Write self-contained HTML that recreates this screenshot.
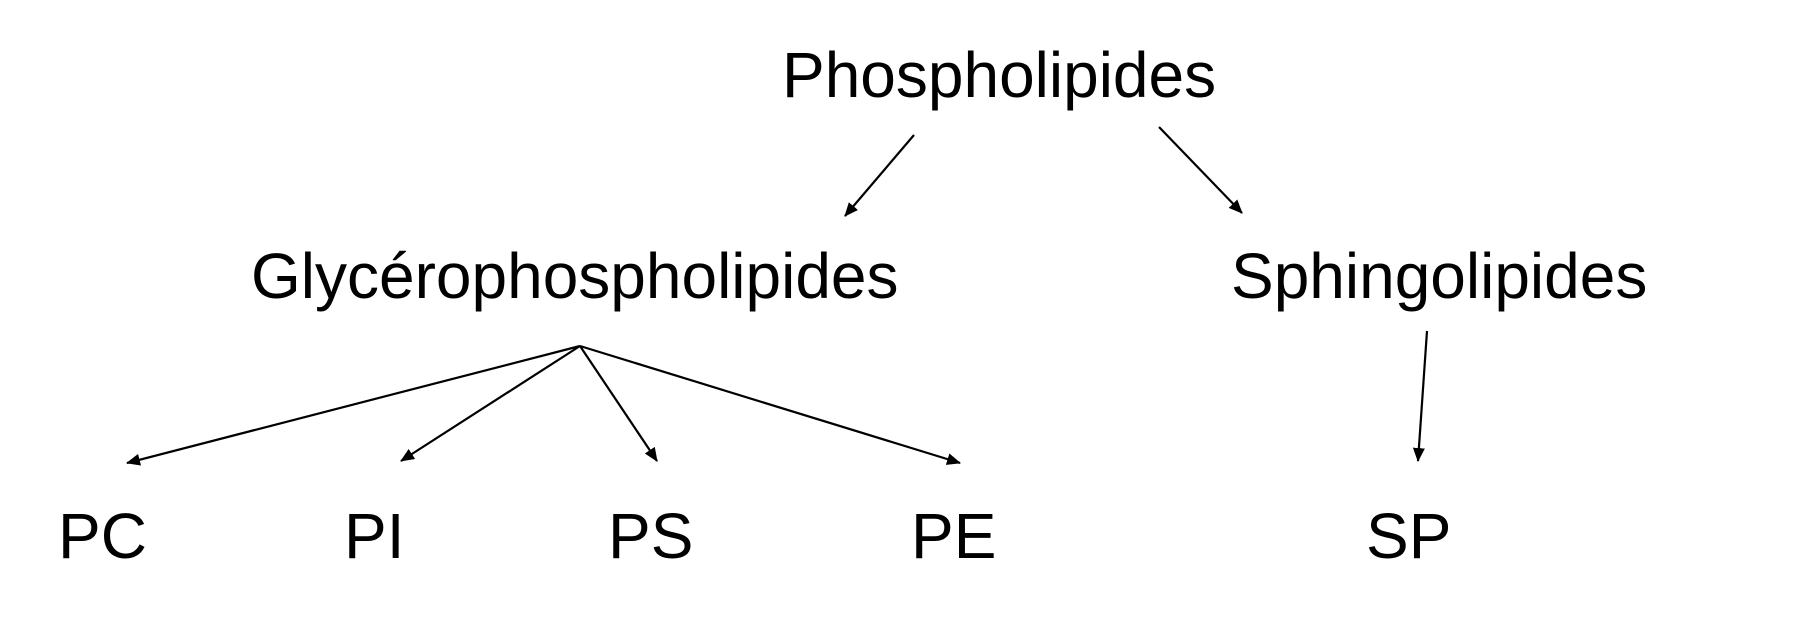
<!DOCTYPE html>
<html><head><style>html,body{margin:0;padding:0;background:#fff}</style></head><body>
<svg width="1808" height="624" xmlns="http://www.w3.org/2000/svg" style="display:block">
<defs><marker id="a" markerWidth="14" markerHeight="12" refX="13" refY="6" orient="auto" markerUnits="userSpaceOnUse"><path d="M0,0 L14,6 L0,12 z" fill="#000"/></marker></defs>
<g font-family="Liberation Sans, Arial, sans-serif" font-size="64" fill="#000">
<text x="782" y="97">Phospholipides</text>
<text x="251" y="298">Glycérophospholipides</text>
<text x="1231" y="298">Sphingolipides</text>
<text x="58" y="558">PC</text>
<text x="344" y="558">PI</text>
<text x="608" y="558">PS</text>
<text x="911" y="558">PE</text>
<text x="1366" y="558">SP</text>
</g>
<g stroke="#000" stroke-width="2.2" marker-end="url(#a)">
<line x1="914" y1="135" x2="845" y2="216"/>
<line x1="1159" y1="127" x2="1242" y2="213"/>
<line x1="580" y1="346" x2="127" y2="463"/>
<line x1="580" y1="346" x2="401" y2="461"/>
<line x1="580" y1="346" x2="657" y2="461"/>
<line x1="580" y1="346" x2="960" y2="463"/>
<line x1="1427" y1="331" x2="1418" y2="461"/>
</g>
</svg>
</body></html>
